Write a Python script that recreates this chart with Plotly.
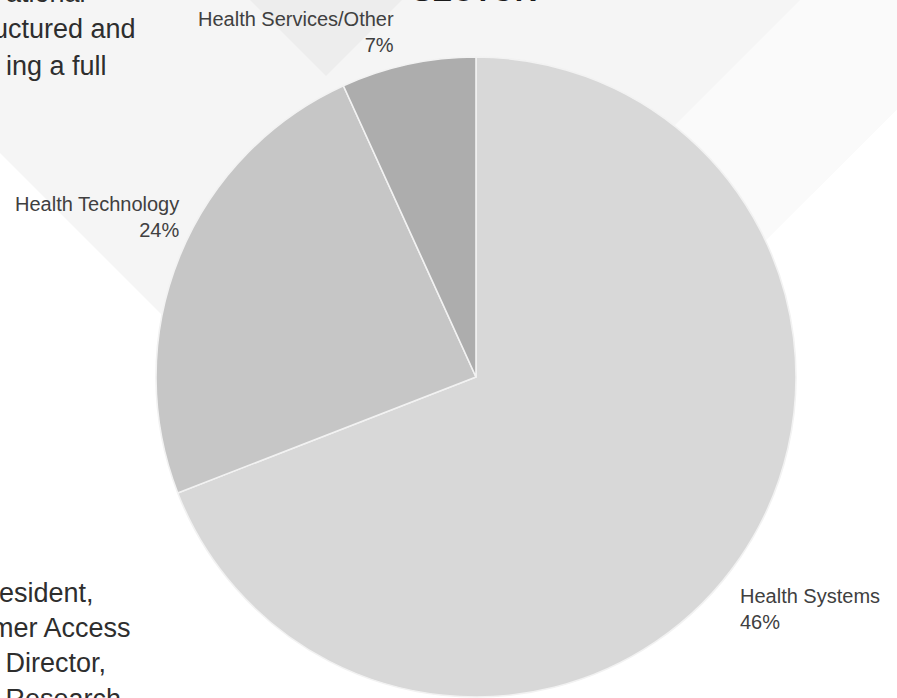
import plotly.graph_objects as go

# ---- data ----
sectors = ["Health Systems", "Health Technology", "Health Services/Other"]
slice_share = [69.1, 24.1, 6.8]          # angular share as drawn
shown_pct = ["46%", "24%", "7%"]         # percentages printed on the chart
slice_colors = ["#d8d8d8", "#c6c6c6", "#adadad"]

W, H = 897, 698

def px(x):
    return x / W

def py(y):
    return 1 - y / H

fig = go.Figure()
fig.add_trace(go.Pie(
    labels=sectors,
    values=slice_share,
    text=shown_pct,
    sort=False,
    direction="clockwise",
    rotation=0,
    textinfo="none",
    hovertemplate="%{label}<br>%{text}<extra></extra>",
    marker=dict(colors=slice_colors, line=dict(color="#f2f2f2", width=1.6)),
    domain=dict(x=[px(156), px(796)], y=[py(697), py(57)]),
    showlegend=False,
))

def poly(points):
    return "M " + " L ".join(f"{px(x):.5f},{py(y):.5f}" for x, y in points) + " Z"

shapes = [
    dict(type="path", xref="paper", yref="paper", layer="below",
         path=poly([(0, 0), (0, 153), (426, 579), (897, 109), (897, 0)]),
         fillcolor="#f5f5f5", line=dict(width=0)),
    dict(type="path", xref="paper", yref="paper", layer="below",
         path=poly([(800, 0), (897, 0), (897, 109), (503, 503), (400, 400)]),
         fillcolor="#fafafa", line=dict(width=0)),
    dict(type="path", xref="paper", yref="paper", layer="below",
         path=poly([(250, 0), (326, 76), (402, 0)]),
         fillcolor="#ededed", line=dict(width=0)),
]

label_font = dict(family="Liberation Sans, Arial, sans-serif", size=20, color="#404040")
label_pos = [  # (x, y, xanchor, align)
    (738, 609, "left", "left"),
    (181, 217, "right", "right"),
    (396, 32, "right", "right"),
]
annotations = []
for name, pct, (x, y, xa, al) in zip(sectors, shown_pct, label_pos):
    annotations.append(dict(
        x=px(x), y=py(y), xref="paper", yref="paper", xanchor=xa, yanchor="middle",
        align=al, showarrow=False, text=f"{name}<br>{pct}", font=label_font,
    ))

# background infographic text (cropped)
bg_font = dict(family="Liberation Sans, Arial, sans-serif", size=27, color="#2e2e2e")
bg_lines = [
    ("ational", 88, 3),
    ("uctured and", 138, 39),
    ("ing a full", 109, 76),
    ("resident,", 96, 603),
    ("mer Access", 133, 638),
    (" Director,", 108, 673),
    ("r Research", 123, 709),
]
for t, x, base in bg_lines:
    annotations.append(dict(
        x=px(x), y=py(base + 7), xref="paper", yref="paper", xanchor="right",
        yanchor="bottom", showarrow=False, text=t, font=bg_font,
    ))

annotations.append(dict(
    x=px(474), y=py(9), xref="paper", yref="paper", xanchor="center", yanchor="bottom",
    showarrow=False, text="<b>SECTOR</b>",
    font=dict(family="Liberation Sans, Arial, sans-serif", size=30, color="#1a1a1a"),
))

fig.update_layout(
    width=W, height=H, autosize=False,
    margin=dict(l=0, r=0, t=0, b=0),
    paper_bgcolor="#ffffff", plot_bgcolor="#ffffff",
    shapes=shapes, annotations=annotations,
)

fig.write_html("out.html")
